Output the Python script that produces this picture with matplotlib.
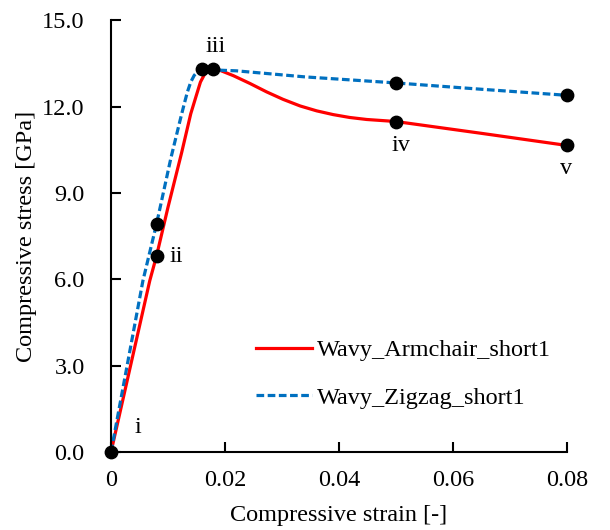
import matplotlib.pyplot as plt

plt.rcParams['font.family'] = ['Liberation Serif', 'DejaVu Serif']

# Curva armchair (roja)
arm_strain = [0, 0.0068, 0.008, 0.010, 0.0124, 0.014, 0.015, 0.0157, 0.0165,
              0.0172, 0.0179, 0.0191, 0.0215, 0.0244, 0.0273, 0.0302, 0.0332,
              0.0361, 0.039, 0.0419, 0.0449, 0.05, 0.065, 0.08]
arm_stress = [0, 5.95, 6.82, 8.5, 10.4, 11.75, 12.4, 12.85, 13.15,
              13.27, 13.29, 13.26, 13.07, 12.8, 12.51, 12.25, 12.02,
              11.85, 11.72, 11.62, 11.55, 11.48, 11.07, 10.65]

# Curva zigzag (azul)
zig_strain = [0, 0.0056, 0.008, 0.0105, 0.0121, 0.0128, 0.0134, 0.014, 0.0146,
              0.0152, 0.0159, 0.018, 0.022, 0.034, 0.05, 0.065, 0.08]
zig_stress = [0, 5.95, 7.93, 10.2, 11.5, 12.05, 12.5, 12.85, 13.08,
              13.22, 13.29, 13.27, 13.24, 13.03, 12.82, 12.6, 12.39]

# Puntos marcados
pt_strain = [0, 0.008, 0.008, 0.0159, 0.0179, 0.05, 0.05, 0.08, 0.08]
pt_stress = [0, 6.82, 7.93, 13.29, 13.29, 11.48, 12.82, 10.65, 12.39]

# Etiquetas de los puntos
lab_text = ['i', 'ii', 'iii', 'iv', 'v']
lab_strain = [0.0048, 0.0115, 0.0183, 0.0509, 0.0799]
lab_stress = [0.85, 6.8, 14.1, 10.65, 9.85]

xticks = [0, 0.02, 0.04, 0.06, 0.08]
xticklabels = ['0', '0.02', '0.04', '0.06', '0.08']
yticks = [0, 3, 6, 9, 12, 15]
yticklabels = ['0.0', '3.0', '6.0', '9.0', '12.0', '15.0']

fig = plt.figure(figsize=(6.1, 5.3), dpi=100)
ax = fig.add_axes([0.182, 0.147, 0.747, 0.815])

ax.plot(arm_strain, arm_stress, color='#FF0000', lw=2.3, label='Wavy_Armchair_short1')
ax.plot(zig_strain, zig_stress, color='#0070C0', lw=2.3, dashes=(2.4, 1.1),
        label='Wavy_Zigzag_short1')
ax.scatter(pt_strain, pt_stress, s=80, color='black', zorder=5, clip_on=False)

for t, x, y in zip(lab_text, lab_strain, lab_stress):
    ax.text(x, y, t, fontsize=17.5, ha='center', va='center')

ax.set_xlim(0, 0.08)
ax.set_ylim(0, 15)
ax.set_xticks(xticks)
ax.set_xticklabels(xticklabels)
ax.set_yticks(yticks)
ax.set_yticklabels(yticklabels)
ax.tick_params(direction='in', length=7, width=1.5, labelsize=17.5)
ax.tick_params(axis='y', pad=19)
ax.tick_params(axis='x', pad=13)
ax.spines['top'].set_visible(False)
ax.spines['right'].set_visible(False)
ax.spines['left'].set_linewidth(1.5)
ax.spines['bottom'].set_linewidth(1.5)

ax.set_xlabel('Compressive strain [-]', fontsize=17.5, labelpad=10)
ax.set_ylabel('Compressive stress [GPa]', fontsize=17.5, labelpad=4)

ax.legend(loc='upper left', bbox_to_anchor=(0.27, 0.312), frameon=False, fontsize=17.5,
          handlelength=2.3, handletextpad=0.2, labelspacing=1.05)

fig.savefig('out.png', dpi=100)
